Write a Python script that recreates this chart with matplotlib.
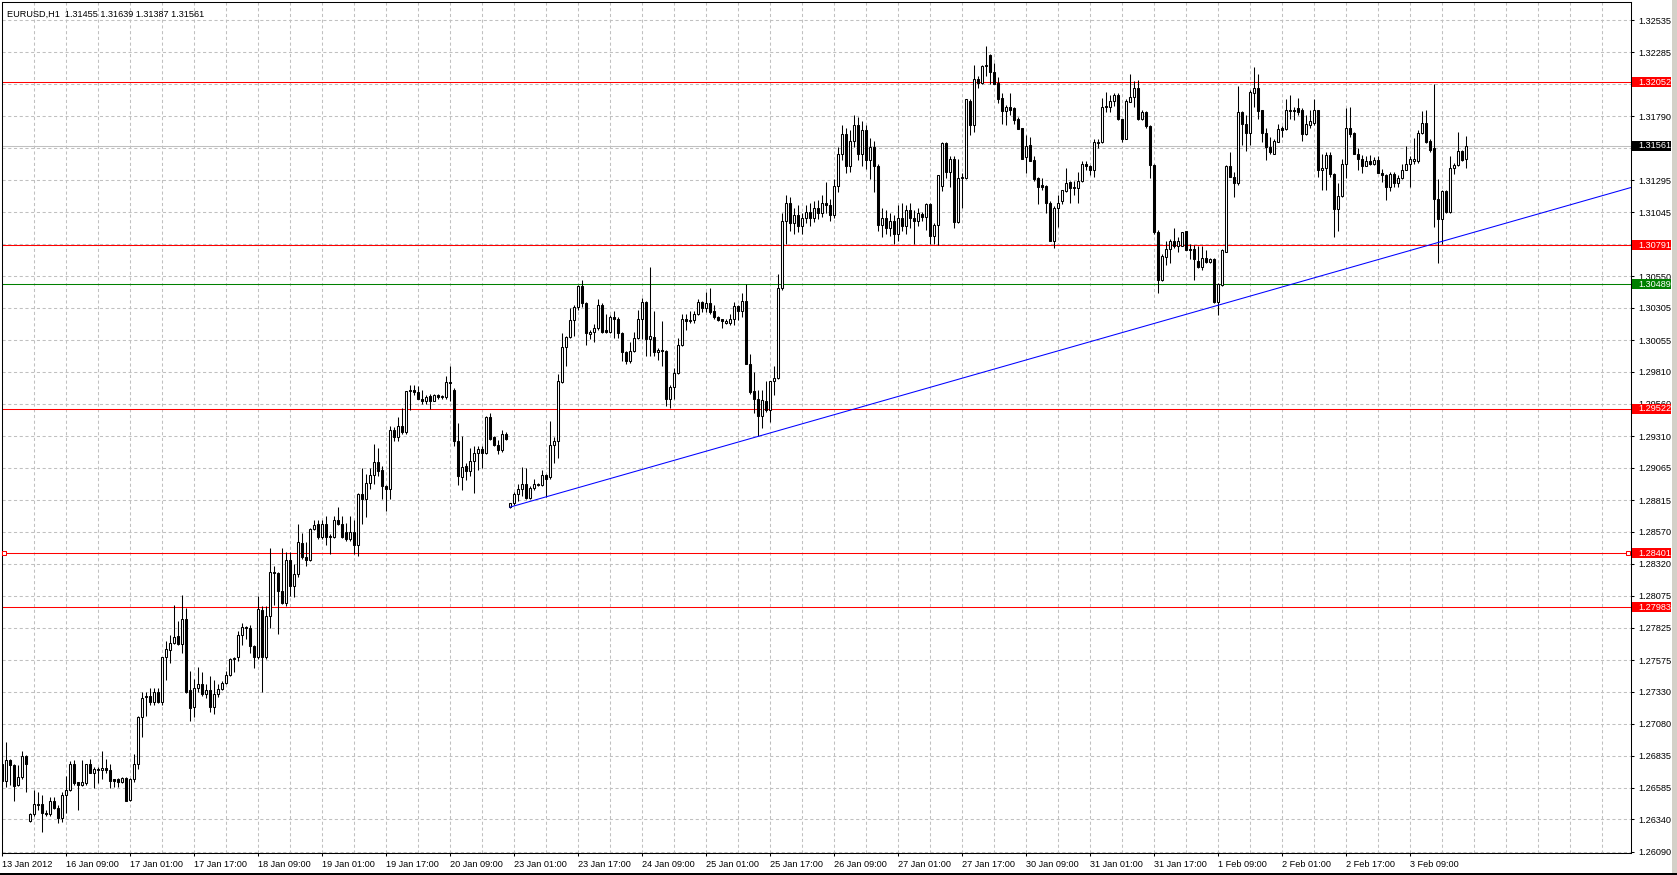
import numpy as np
import matplotlib
matplotlib.use("Agg")
import matplotlib.pyplot as plt
import matplotlib.transforms as mtransforms
from matplotlib.patches import Rectangle

plt.rcParams['font.family'] = ['Liberation Sans', 'DejaVu Sans']

# EURUSD H1, prices in 1e-4 units, one value per hourly bar
opens = [
    12677, 12664, 12680, 12676, 12661, 12667, 12683, 12633, 12638, 12646,
    12646, 12639, 12638, 12648, 12643, 12635, 12653, 12657, 12677, 12663,
    12661, 12662, 12677, 12670, 12672, 12672, 12674, 12672, 12665, 12665,
    12663, 12666, 12649, 12665, 12677, 12713, 12729, 12730, 12725, 12733,
    12725, 12760, 12765, 12771, 12776, 12770, 12789, 12734, 12721, 12736,
    12739, 12731, 12734, 12721, 12731, 12735, 12740, 12746, 12758, 12760,
    12777, 12783, 12782, 12768, 12760, 12796, 12760, 12792, 12826, 12825,
    12811, 12802, 12835, 12815, 12824, 12848, 12837, 12835, 12859, 12863,
    12853, 12863, 12854, 12853, 12866, 12863, 12857, 12851, 12857, 12847,
    12886, 12882, 12895, 12901, 12911, 12905, 12892, 12890, 12936, 12930,
    12939, 12934, 12966, 12967, 12965, 12960, 12958, 12962, 12958, 12963,
    12961, 12961, 12973, 12967, 12927, 12899, 12908, 12904, 12912, 12918,
    12921, 12918, 12946, 12930, 12924, 12920, 12933, 12876, 12879, 12886,
    12890, 12894, 12883, 12891, 12894, 12893, 12901, 12899, 12924, 12927,
    12973, 13000, 13008, 13021, 13031, 13047, 13034, 13010, 13012, 13015,
    13033, 13013, 13012, 13023, 13022, 13011, 12996, 12989, 12997, 13007,
    13022, 13035, 13006, 13008, 12996, 12998, 12997, 12960, 12969, 12980,
    13002, 13022, 13020, 13021, 13026, 13035, 13030, 13034, 13028, 13023,
    13022, 13019, 13019, 13022, 13032, 13028, 13036, 12987, 12966, 12960,
    12947, 12958, 12951, 12974, 12976, 13046, 13098, 13112, 13096, 13102,
    13094, 13100, 13105, 13100, 13108, 13104, 13112, 13110, 13102, 13125,
    13150, 13165, 13140, 13160, 13172, 13150, 13168, 13145, 13155, 13140,
    13095, 13100, 13092, 13098, 13088, 13100, 13094, 13106, 13100, 13098,
    13103, 13101, 13111, 13086, 13095, 13125, 13158, 13136, 13146, 13097,
    13131, 13131, 13191, 13172, 13208, 13205, 13218, 13226, 13213, 13205,
    13193, 13183, 13186, 13185, 13177, 13170, 13147, 13157, 13145, 13131,
    13126, 13125, 13112, 13082, 13108, 13113, 13121, 13128, 13124, 13123,
    13129, 13142, 13140, 13137, 13158, 13159, 13187, 13186, 13191, 13195,
    13177, 13161, 13190, 13194, 13201, 13177, 13182, 13171, 13141, 13089,
    13052, 13070, 13076, 13082, 13078, 13078, 13090, 13076, 13076, 13067,
    13062, 13069, 13066, 13068, 13035, 13048, 13074, 13140, 13132, 13127,
    13182, 13173, 13166, 13197, 13201, 13184, 13166, 13155, 13150, 13159,
    13170, 13169, 13183, 13184, 13185, 13184, 13165, 13172, 13174, 13184,
    13137, 13139, 13149, 13134, 13107, 13117, 13142, 13170, 13166, 13150,
    13146, 13140, 13144, 13142, 13145, 13135, 13133, 13124, 13134, 13127,
    13131, 13137, 13142, 13144, 13144, 13166, 13174, 13160, 13154, 13115,
    13099, 13121, 13105, 13139, 13141, 13152, 13145.5,
]
highs = [
    12685, 12694, 12681, 12677, 12676, 12687, 12684, 12639, 12657, 12655,
    12653, 12641, 12651, 12651, 12645, 12655, 12668, 12679, 12680, 12663,
    12680, 12677, 12681, 12675, 12675, 12687, 12681, 12677, 12665, 12666,
    12667, 12667, 12666, 12685, 12714, 12733, 12733, 12736, 12736, 12736,
    12760, 12772, 12777, 12800, 12788, 12808, 12798, 12749, 12743, 12752,
    12748, 12739, 12745, 12742, 12739, 12741, 12749, 12759, 12760, 12780,
    12786, 12784, 12785, 12769, 12807, 12799, 12799, 12844, 12830, 12826,
    12844, 12841, 12841, 12832, 12863, 12856, 12849, 12860, 12866, 12866,
    12866, 12869, 12855, 12869, 12876, 12869, 12864, 12869, 12866, 12887,
    12906, 12902, 12906, 12925, 12922, 12908, 12893, 12939, 12938, 12946,
    12953, 12966, 12971, 12971, 12970, 12967, 12963, 12964, 12964, 12964,
    12963, 12978, 12985, 12968, 12941, 12931, 12910, 12922, 12923, 12923,
    12923, 12947, 12949, 12931, 12928, 12936, 12934, 12879, 12888, 12894,
    12907, 12906, 12892, 12898, 12895, 12905, 12902, 12943, 12930, 12979,
    13011, 13009, 13030, 13033, 13048, 13052, 13035, 13013, 13018, 13037,
    13034, 13026, 13025, 13028, 13023, 13012, 12997, 13004, 13012, 13029,
    13038, 13036, 13062, 13028, 12999, 13020, 12998, 12971, 12984, 13007,
    13026, 13026, 13028, 13028, 13037, 13036, 13043, 13046, 13033, 13024,
    13022, 13022, 13026, 13035, 13033, 13042, 13049, 12995, 12981, 12967,
    12967, 12974, 12974, 12985, 13057, 13104, 13118, 13116, 13108, 13110,
    13104, 13110, 13112, 13113, 13114, 13118, 13128, 13115, 13130, 13155,
    13172, 13170, 13168, 13180, 13178, 13175, 13172, 13162, 13160, 13142,
    13108, 13106, 13104, 13102, 13110, 13112, 13110, 13112, 13106, 13108,
    13105, 13112, 13112, 13096, 13133, 13159, 13159, 13148, 13148, 13146,
    13135, 13192, 13192, 13219, 13210, 13219, 13233, 13227, 13220, 13209,
    13197, 13188, 13197, 13186, 13178, 13170, 13164, 13163, 13148, 13132,
    13131, 13126, 13113, 13109, 13118, 13122, 13139, 13129, 13129, 13136,
    13144, 13144, 13141, 13161, 13161, 13193, 13198, 13195, 13197, 13197,
    13177, 13192, 13212, 13206, 13207, 13184, 13183, 13172, 13142, 13091,
    13072, 13082, 13084, 13092, 13085, 13089, 13090, 13080, 13079, 13078,
    13078, 13075, 13069, 13069, 13050, 13076, 13141, 13151, 13136, 13202,
    13183, 13180, 13199, 13217, 13212, 13184, 13170, 13163, 13161, 13173,
    13171, 13192, 13195, 13186, 13193, 13185, 13180, 13184, 13192, 13184,
    13150, 13151, 13151, 13135, 13127, 13146, 13185, 13186, 13167, 13154,
    13149, 13148, 13149, 13147, 13148, 13138, 13134, 13136, 13136, 13133,
    13142, 13156, 13148, 13162, 13168, 13183, 13184, 13161, 13204, 13130,
    13122, 13122, 13148, 13143, 13167, 13153, 13163.9,
]
lows = [
    12623, 12659, 12661, 12648, 12660, 12665, 12655, 12632, 12637, 12641,
    12624, 12637, 12637, 12642, 12631, 12632, 12639, 12656, 12661, 12641,
    12660, 12661, 12670, 12658, 12662, 12665, 12670, 12658, 12659, 12659,
    12662, 12648, 12648, 12663, 12673, 12698, 12714, 12723, 12723, 12724,
    12723, 12742, 12755, 12770, 12769, 12763, 12732, 12710, 12713, 12733,
    12730, 12728, 12717, 12716, 12729, 12734, 12739, 12745, 12748, 12757,
    12769, 12774, 12763, 12751, 12758, 12733, 12758, 12782, 12800, 12778,
    12801, 12799, 12807, 12806, 12822, 12836, 12830, 12834, 12858, 12851,
    12851, 12847, 12840, 12852, 12862, 12852, 12850, 12850, 12840, 12838,
    12863, 12868, 12890, 12894, 12900, 12882, 12873, 12882, 12927, 12927,
    12933, 12933, 12951, 12963, 12960, 12956, 12956, 12952, 12958, 12960,
    12960, 12960, 12958, 12923, 12893, 12889, 12897, 12900, 12887, 12905,
    12906, 12917, 12928, 12923, 12917, 12919, 12928, 12875, 12878, 12881,
    12885, 12882, 12882, 12889, 12892, 12892, 12884, 12898, 12910, 12914,
    12972, 12985, 13007, 13009, 13029, 13031, 13002, 13006, 13004, 13013,
    13011, 13011, 13011, 13007, 13007, 12989, 12987, 12988, 12996, 13006,
    13006, 12993, 12993, 12993, 12990, 12985, 12954, 12953, 12960, 12979,
    13001, 13013, 13019, 13019, 13025, 13027, 13027, 13026, 13022, 13020,
    13015, 13018, 13017, 13017, 13021, 13023, 12987, 12964, 12949, 12931,
    12937, 12950, 12942, 12963, 12975, 13044, 13080, 13090, 13088, 13089,
    13088, 13096, 13094, 13097, 13099, 13101, 13104, 13098, 13100, 13120,
    13145, 13135, 13136, 13155, 13145, 13140, 13138, 13130, 13120, 13090,
    13085, 13088, 13086, 13080, 13082, 13090, 13088, 13092, 13080, 13094,
    13098, 13091, 13080, 13080, 13079, 13121, 13131, 13124, 13092, 13096,
    13108, 13130, 13164, 13167, 13201, 13204, 13210, 13204, 13204, 13189,
    13173, 13172, 13180, 13173, 13169, 13146, 13135, 13144, 13129, 13111,
    13122, 13104, 13082, 13077, 13093, 13111, 13120, 13112, 13118, 13112,
    13128, 13137, 13133, 13132, 13154, 13158, 13182, 13182, 13187, 13176,
    13159, 13161, 13190, 13186, 13176, 13176, 13170, 13131, 13088, 13042,
    13051, 13064, 13065, 13077, 13074, 13078, 13075, 13068, 13052, 13061,
    13060, 13065, 13065, 13034, 13025, 13047, 13074, 13132, 13116, 13126,
    13157, 13152, 13157, 13186, 13177, 13159, 13145, 13150, 13150, 13159,
    13163, 13168, 13177, 13176, 13180, 13160, 13164, 13170, 13172, 13132,
    13122, 13122, 13132, 13085, 13090, 13116, 13131, 13163, 13150, 13137,
    13135, 13140, 13141, 13141, 13135, 13128, 13114, 13121, 13124, 13124,
    13130, 13137, 13124, 13142, 13143, 13165, 13158, 13151, 13093, 13065,
    13080, 13104, 13104, 13134, 13140, 13144, 13138.7,
]
closes = [
    12664, 12680, 12676, 12660, 12667, 12683, 12677, 12638, 12646, 12645,
    12639, 12638, 12648, 12643, 12635, 12653, 12657, 12677, 12662, 12661,
    12663, 12677, 12670, 12673, 12673, 12674, 12672, 12664, 12664, 12663,
    12666, 12648, 12665, 12677, 12713, 12728, 12730, 12725, 12733, 12725,
    12760, 12766, 12771, 12775, 12770, 12789, 12733, 12720, 12736, 12739,
    12731, 12734, 12721, 12731, 12735, 12740, 12746, 12758, 12759, 12777,
    12783, 12782, 12768, 12760, 12797, 12760, 12792, 12826, 12825, 12811,
    12802, 12835, 12815, 12824, 12849, 12837, 12835, 12859, 12862, 12853,
    12863, 12853, 12853, 12866, 12863, 12853, 12851, 12857, 12847, 12886,
    12882, 12895, 12901, 12911, 12904, 12892, 12890, 12936, 12930, 12939,
    12934, 12966, 12967, 12965, 12960, 12958, 12961, 12958, 12963, 12961,
    12962, 12973, 12972, 12927, 12900, 12907, 12904, 12912, 12918, 12921,
    12918, 12946, 12929, 12924, 12920, 12933, 12929, 12879, 12886, 12890,
    12894, 12883, 12891, 12894, 12893, 12901, 12898, 12924, 12927, 12974,
    13000, 13008, 13021, 13031, 13047, 13034, 13011, 13012, 13015, 13033,
    13012, 13012, 13023, 13022, 13011, 12996, 12989, 12997, 13007, 13022,
    13035, 13006, 13009, 12996, 12998, 12997, 12960, 12969, 12980, 13002,
    13022, 13020, 13021, 13026, 13035, 13030, 13034, 13027, 13023, 13021,
    13020, 13020, 13022, 13032, 13028, 13036, 12987, 12965, 12960, 12947,
    12959, 12951, 12974, 12976, 13046, 13098, 13112, 13096, 13102, 13094,
    13100, 13105, 13100, 13108, 13104, 13112, 13110, 13102, 13125, 13150,
    13165, 13140, 13160, 13172, 13150, 13168, 13145, 13155, 13140, 13095,
    13100, 13092, 13098, 13088, 13100, 13094, 13106, 13100, 13098, 13104,
    13101, 13111, 13086, 13095, 13133, 13158, 13136, 13146, 13097, 13131,
    13132, 13192, 13172, 13208, 13205, 13218, 13219, 13213, 13204, 13192,
    13183, 13186, 13184, 13176, 13169, 13146, 13156, 13144, 13130, 13124,
    13124, 13112, 13082, 13108, 13112, 13122, 13127, 13123, 13123, 13129,
    13142, 13140, 13137, 13159, 13159, 13186, 13186, 13191, 13195, 13177,
    13161, 13191, 13194, 13201, 13177, 13182, 13171, 13141, 13089, 13052,
    13071, 13076, 13082, 13078, 13082, 13089, 13075, 13075, 13068, 13062,
    13069, 13066, 13068, 13035, 13049, 13075, 13140, 13132, 13127, 13182,
    13173, 13166, 13198, 13201, 13183, 13166, 13155, 13151, 13160, 13169,
    13168, 13184, 13184, 13183, 13182, 13165, 13173, 13175, 13184, 13137,
    13139, 13149, 13134, 13107, 13117, 13142, 13170, 13165, 13150, 13146,
    13140, 13144, 13142, 13145, 13135, 13133, 13124, 13134, 13127, 13131,
    13137, 13142, 13146, 13146, 13166, 13174, 13159, 13153, 13115, 13099,
    13121, 13105, 13139, 13141, 13152, 13145, 13156.1,
]

time_labels = ["13 Jan 2012", "16 Jan 09:00", "17 Jan 01:00", "17 Jan 17:00",
               "18 Jan 09:00", "19 Jan 01:00", "19 Jan 17:00", "20 Jan 09:00",
               "23 Jan 01:00", "23 Jan 17:00", "24 Jan 09:00", "25 Jan 01:00",
               "25 Jan 17:00", "26 Jan 09:00", "27 Jan 01:00", "27 Jan 17:00",
               "30 Jan 09:00", "31 Jan 01:00", "31 Jan 17:00", "1 Feb 09:00",
               "2 Feb 01:00", "2 Feb 17:00", "3 Feb 09:00"]
label_step = 16

price_ticks = [1.26090, 1.26340, 1.26585, 1.26835, 1.27080, 1.27330, 1.27575,
               1.27825, 1.28075, 1.28320, 1.28570, 1.28815, 1.29065, 1.29310,
               1.29560, 1.29810, 1.30055, 1.30305, 1.30550, 1.30800, 1.31045,
               1.31295, 1.31540, 1.31790, 1.32040, 1.32285, 1.32535]
# scale labels that sit fully under a coloured price tag
covered_ticks = [1.30800, 1.31540, 1.32040]

# horizontal levels drawn on the chart
red_levels = [1.32052, 1.30791, 1.29522, 1.28401, 1.27983]
green_level = 1.30489
bid = 1.31561

# trendline anchors (bar index, price)
trend_a = (127, 1.28760)
trend_b = (189, 1.29308)

title = "EURUSD,H1  1.31455 1.31639 1.31387 1.31561"

# ---------------------------------------------------------------
W, H = 1677, 875
fig = plt.figure(figsize=(W / 100, H / 100), dpi=100)
fig.patch.set_facecolor("white")

px_left, px_right, px_top, px_bottom = 1.5, 1631, 2, 853
ax = fig.add_axes([px_left / W, 1 - px_bottom / H,
                   (px_right - px_left) / W, (px_bottom - px_top) / H])

o = np.array(opens) / 10000
h = np.array(highs) / 10000
l = np.array(lows) / 10000
c = np.array(closes) / 10000
h = np.maximum(h, np.maximum(o, c))
l = np.minimum(l, np.minimum(o, c))
idx = np.arange(len(o))
up = c >= o

lw = 0.75
ax.vlines(idx, l, h, color="black", linewidth=lw, zorder=3)
ax.bar(idx[up], (c - o)[up], bottom=o[up], width=0.5, color="white",
       edgecolor="black", linewidth=lw, zorder=4)
ax.bar(idx[~up], (o - c)[~up], bottom=c[~up], width=0.5, color="black",
       edgecolor="black", linewidth=lw, zorder=4)

xmin, xmax = -0.125, 407.25
ax.set_xlim(xmin, xmax)
ax.set_ylim(1.260797, 1.326745)

# levels
for v in red_levels:
    ax.axhline(v, color="#ff0000", linewidth=lw, zorder=2)
ax.axhline(green_level, color="#008000", linewidth=lw, zorder=2)
ax.axhline(bid, color="#c0c0c0", linewidth=lw, zorder=1.5)

# trendline as a ray to the right edge
slope = (trend_b[1] - trend_a[1]) / (trend_b[0] - trend_a[0])
ax.plot([trend_a[0], xmax], [trend_a[1], trend_a[1] + slope * (xmax - trend_a[0])],
        color="#0000ff", linewidth=lw, zorder=5, clip_on=True)

# grid
ax.set_xticks(np.arange(0, len(time_labels) * label_step, label_step))
ax.set_xticklabels(time_labels)
ax.set_xticks(np.arange(0, 408, 8), minor=True)
ax.set_yticks(price_ticks)
ax.set_yticklabels(["" if v in covered_ticks else f"{v:.5f}" for v in price_ticks])
ax.set_axisbelow(True)
ax.grid(True, which="both", axis="x", color="#c0c0c0", linewidth=lw,
        linestyle=(0, (3, 2.5)))
ax.grid(True, which="major", axis="y", color="#c0c0c0", linewidth=lw,
        linestyle=(0, (3, 2.5)))

ax.yaxis.tick_right()
ax.tick_params(axis="y", direction="out", length=2.5, width=lw, pad=2.5,
               labelsize=6.6, colors="black")
ax.tick_params(axis="x", which="major", direction="out", length=2.5, width=lw,
               pad=2.5, labelsize=6.6)
ax.tick_params(axis="x", which="minor", length=0)
for lbl in ax.get_xticklabels():
    lbl.set_horizontalalignment("left")
for sp in ax.spines.values():
    sp.set_linewidth(lw)
    sp.set_color("black")

# coloured price tags on the right axis
trans = mtransforms.blended_transform_factory(ax.transAxes, ax.transData)
ax_w = px_right - px_left
pip_px = (px_bottom - px_top) / (1.326745 - 1.260797)
box_h = 10 / pip_px
tags = [(v, "#ff0000") for v in red_levels] + [(green_level, "#008000"), (bid, "black")]
for v, col in tags:
    ax.add_patch(Rectangle(((1632 - px_left) / ax_w, v - box_h / 2), 39 / ax_w, box_h,
                           transform=trans, facecolor=col, edgecolor="none",
                           clip_on=False, zorder=10))
    ax.text((1638 - px_left) / ax_w, v, f"{v:.5f}", transform=trans, color="white",
            fontsize=6.6, va="center", ha="left", clip_on=False, zorder=11)

# selection handles of the 1.28401 line
ax.plot([(4 - px_left) / ax_w, (1628 - px_left) / ax_w], [1.28401, 1.28401],
        linestyle="none", marker="s", markersize=3.2, markerfacecolor="white",
        markeredgecolor="#ff0000", markeredgewidth=lw, transform=trans,
        clip_on=False, zorder=12)

fig.text(7 / W, 1 - 14 / H, title, fontsize=6.6, va="center", ha="left")

# window chrome
fig.patches.append(Rectangle((1672 / W, 0), 5 / W, 1, transform=fig.transFigure,
                             facecolor="#d4d0c8", edgecolor="none"))
fig.patches.append(Rectangle((0, 0), 1, 2 / H, transform=fig.transFigure,
                             facecolor="black", edgecolor="none"))

fig.savefig("out.png", dpi=100)
